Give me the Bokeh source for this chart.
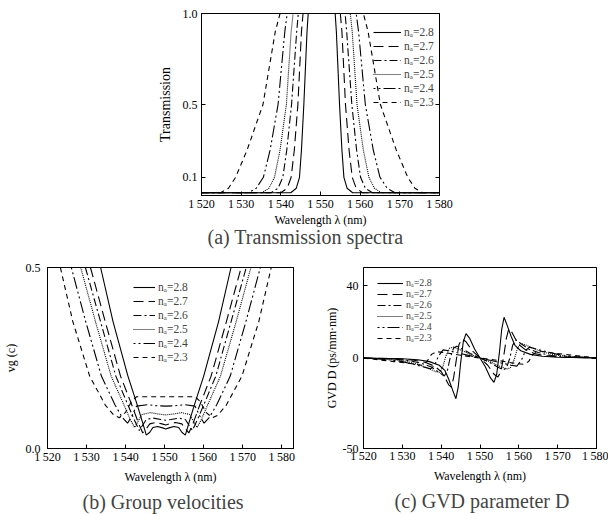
from bokeh.plotting import figure
from bokeh.models import FixedTicker, Legend, LegendItem, LinearAxis, Range1d
from bokeh.layouts import column, row
from bokeh.embed import file_html
from bokeh.resources import INLINE

SERIF = "Liberation Serif, Times New Roman, serif"

# ---------------- data ----------------
na_labels = ["nₐ=2.8", "nₐ=2.7", "nₐ=2.6", "nₐ=2.5", "nₐ=2.4", "nₐ=2.3"]
dashes = ["solid", "10 5", "8 3 2 3", "1 1", "2 3 2 3 12 3", "5 4"]

x_ticks = [1520, 1530, 1540, 1550, 1560, 1570, 1580]
x_tick_labels = ["1\u2009520", "1\u2009530", "1\u2009540", "1\u2009550", "1\u2009560", "1\u2009570", "1\u2009580"]

# (a) transmission spectra
a_ticks = [0.1, 0.5, 1.0]
a_tick_labels = ["0.1", "0.5", "1.0"]
wl_a_28 = [1520, 1542.5, 1543.9, 1544.7, 1545.2, 1545.8, 1546.6, 1546.9, 1553.7, 1554.0, 1554.8, 1555.4, 1555.9, 1556.7, 1558.1, 1580]
T_a_28 = [0.015, 0.015, 0.04, 0.1, 0.25, 0.5, 0.9, 1.0, 1.0, 0.9, 0.5, 0.25, 0.1, 0.04, 0.015, 0.015]
wl_a_27 = [1520, 1540.0, 1541.6, 1542.6, 1543.4, 1544.3, 1545.2, 1545.6, 1555.0, 1555.4, 1556.3, 1557.2, 1558.0, 1559.0, 1560.6, 1580]
T_a_27 = [0.015, 0.015, 0.04, 0.1, 0.25, 0.5, 0.9, 1.0, 1.0, 0.9, 0.5, 0.25, 0.1, 0.04, 0.015, 0.015]
wl_a_26 = [1520, 1537.5, 1539.3, 1540.5, 1541.5, 1542.7, 1544.0, 1544.4, 1556.2, 1556.6, 1557.9, 1559.1, 1560.1, 1561.3, 1563.1, 1580]
T_a_26 = [0.015, 0.015, 0.04, 0.1, 0.25, 0.5, 0.9, 1.0, 1.0, 0.9, 0.5, 0.25, 0.1, 0.04, 0.015, 0.015]
wl_a_25 = [1520, 1535.2, 1537.0, 1538.4, 1539.8, 1541.4, 1542.6, 1543.1, 1557.5, 1558.0, 1559.2, 1560.8, 1562.2, 1563.6, 1565.4, 1580]
T_a_25 = [0.015, 0.015, 0.04, 0.1, 0.25, 0.5, 0.9, 1.0, 1.0, 0.9, 0.5, 0.25, 0.1, 0.04, 0.015, 0.015]
wl_a_24 = [1520, 1531.8, 1533.8, 1535.6, 1537.3, 1539.3, 1541.0, 1541.6, 1559.0, 1559.6, 1561.3, 1563.3, 1565.0, 1566.8, 1568.8, 1580]
T_a_24 = [0.015, 0.015, 0.04, 0.1, 0.25, 0.5, 0.9, 1.0, 1.0, 0.9, 0.5, 0.25, 0.1, 0.04, 0.015, 0.015]
wl_a_23 = [1520, 1524.8, 1526.8, 1528.6, 1531.5, 1535.5, 1538.6, 1539.8, 1560.8, 1562.0, 1565.1, 1569.1, 1572.0, 1573.8, 1575.8, 1580]
T_a_23 = [0.015, 0.015, 0.04, 0.1, 0.25, 0.5, 0.9, 1.0, 1.0, 0.9, 0.5, 0.25, 0.1, 0.04, 0.015, 0.015]

# (b) group velocities
b_ticks = [0.0, 0.5]
b_tick_labels = ["0.0", "0.5"]
wl_b_28 = [1533.6, 1536.8, 1540.6, 1543.0, 1544.4, 1545.3, 1546.2, 1547.0, 1548.2, 1549.5, 1550.3,
           1551.1, 1552.4, 1553.6, 1554.4, 1555.3, 1556.2, 1557.6, 1560.0, 1563.8, 1567.0]
vg_b_28 = [0.5, 0.35, 0.2, 0.12, 0.07, 0.037, 0.045, 0.058, 0.061, 0.057, 0.054,
           0.057, 0.061, 0.058, 0.045, 0.037, 0.07, 0.12, 0.2, 0.35, 0.5]
wl_b_27 = [1531.0, 1534.8, 1538.7, 1541.6, 1543.3, 1544.4, 1545.3, 1546.2, 1547.8, 1549.3, 1550.3,
           1551.3, 1552.8, 1554.4, 1555.3, 1556.2, 1557.3, 1559.0, 1561.9, 1565.8, 1569.6]
vg_b_27 = [0.5, 0.35, 0.2, 0.12, 0.07, 0.043, 0.055, 0.068, 0.072, 0.068, 0.065,
           0.068, 0.072, 0.068, 0.055, 0.043, 0.07, 0.12, 0.2, 0.35, 0.5]
wl_b_26 = [1529.7, 1533.6, 1537.5, 1540.6, 1542.4, 1543.5, 1544.4, 1545.3, 1547.0, 1549.0, 1550.3,
           1551.6, 1553.6, 1555.3, 1556.2, 1557.1, 1558.2, 1560.0, 1563.1, 1567.0, 1570.9]
vg_b_26 = [0.5, 0.35, 0.2, 0.12, 0.075, 0.05, 0.065, 0.08, 0.084, 0.08, 0.078,
           0.08, 0.084, 0.08, 0.065, 0.05, 0.075, 0.12, 0.2, 0.35, 0.5]
wl_b_25 = [1528.5, 1532.3, 1536.3, 1539.6, 1541.2, 1542.3, 1543.2, 1544.2, 1546.3, 1548.5, 1550.3,
           1552.1, 1554.3, 1556.4, 1557.4, 1558.3, 1559.4, 1561.0, 1564.3, 1568.3, 1572.1]
vg_b_25 = [0.5, 0.35, 0.2, 0.12, 0.08, 0.058, 0.075, 0.094, 0.099, 0.095, 0.093,
           0.095, 0.099, 0.094, 0.075, 0.058, 0.08, 0.12, 0.2, 0.35, 0.5]
wl_b_24 = [1526.1, 1529.8, 1533.8, 1537.3, 1539.2, 1540.5, 1541.6, 1542.8, 1545.5, 1548.0, 1550.3,
           1552.6, 1555.1, 1557.8, 1559.0, 1560.1, 1561.4, 1563.3, 1566.8, 1570.8, 1574.5]
vg_b_24 = [0.5, 0.35, 0.2, 0.12, 0.085, 0.07, 0.09, 0.117, 0.121, 0.118, 0.117,
           0.118, 0.121, 0.117, 0.09, 0.07, 0.085, 0.12, 0.2, 0.35, 0.5]
wl_b_23 = [1523.3, 1526.5, 1530.8, 1534.8, 1537.0, 1538.4, 1540.0, 1541.5, 1542.8, 1550.3,
           1557.8, 1559.1, 1560.6, 1562.2, 1563.6, 1565.8, 1569.8, 1574.1, 1577.3]
vg_b_23 = [0.5, 0.35, 0.2, 0.12, 0.092, 0.085, 0.1, 0.13, 0.143, 0.143,
           0.143, 0.13, 0.1, 0.085, 0.092, 0.12, 0.2, 0.35, 0.5]

# (c) GVD parameter D
c_ticks = [-50, 0, 40]
c_tick_labels = ["-50", "0", "40"]
wl_c_28 = [1520, 1530, 1534, 1537, 1539.5, 1541, 1542, 1543, 1543.8, 1544.4, 1545, 1545.7, 1546.4, 1547.3, 1548.6, 1550,
           1551.4, 1552.7, 1553.6, 1554.3, 1555, 1555.6, 1556.2, 1557, 1558, 1559, 1560.5, 1563, 1566, 1570, 1580]
D_c_28 = [0, -0.4, -1, -2, -4, -7, -12, -18, -22.5, -16, -3, 9, 13.5, 11, 5, 0,
          -5, -11, -13.5, -9, 3, 16, 22.5, 18, 12, 7, 4, 2, 1, 0.4, 0]
wl_c_27 = [1520, 1529, 1533, 1536, 1538.3, 1540, 1541, 1542, 1542.6, 1543.2, 1543.9, 1544.6, 1545.4, 1546.4, 1548, 1550,
           1552, 1553.6, 1554.6, 1555.4, 1556.1, 1556.8, 1557.4, 1558, 1559, 1560, 1561.7, 1564, 1567, 1571, 1580]
D_c_27 = [0, -0.5, -1.2, -2.5, -4.5, -7.5, -11, -15, -16, -11, -1, 7.5, 10.5, 9, 4, 0,
          -4, -9, -10.5, -7.5, 1, 11, 16, 15, 11, 7.5, 4.5, 2.5, 1.2, 0.5, 0]
wl_c_26 = [1520, 1528, 1532, 1535, 1537.5, 1539.5, 1540.8, 1541.6, 1542.3, 1543.2, 1544, 1545.5, 1547.5, 1550,
           1552.5, 1554.5, 1556, 1556.8, 1557.7, 1558.4, 1559.2, 1560.5, 1562.5, 1565, 1568, 1572, 1580]
D_c_26 = [0, -0.6, -1.5, -3, -5, -8, -10, -7, 0, 5.5, 6.5, 5, 2.5, 0,
          -2.5, -5, -6.5, -5.5, 0, 7, 10, 8, 5, 3, 1.5, 0.6, 0]
wl_c_25 = [1520, 1527, 1531, 1534, 1536.5, 1538.5, 1539.6, 1540.4, 1541.2, 1542.2, 1543.2, 1545, 1547.5, 1550,
           1552.5, 1555, 1556.8, 1557.8, 1558.8, 1559.6, 1560.4, 1561.5, 1563.5, 1566, 1569, 1573, 1580]
D_c_25 = [0, -0.7, -1.8, -3.5, -5.5, -7.5, -8, -5, 1, 5.5, 6, 4.5, 2, 0,
          -2, -4.5, -6, -5.5, -1, 5, 8, 7.5, 5.5, 3.5, 1.8, 0.7, 0]
wl_c_24 = [1520, 1526, 1530, 1533, 1535.5, 1537.3, 1538.3, 1539.3, 1540.5, 1542, 1545, 1550,
           1555, 1558, 1559.5, 1560.7, 1561.7, 1562.7, 1564.5, 1567, 1570, 1574, 1580]
D_c_24 = [0, -0.8, -2, -3.5, -5, -6, -4, 1, 4.5, 4, 2.5, 0,
          -2.5, -4, -4.5, -1, 4, 6, 5, 3.5, 2, 0.8, 0]
wl_c_23 = [1520, 1524, 1528, 1532, 1535, 1536.3, 1537.5, 1538.8, 1541, 1545, 1550,
           1555, 1559, 1561.2, 1562.5, 1563.7, 1565, 1568, 1572, 1576, 1580]
D_c_23 = [0, -1, -2, -3, -4, -2, 2, 3.5, 3, 1.5, 0,
          -1.5, -3, -3.5, -2, 2, 4, 3, 2, 1, 0]

series_a = [(wl_a_28, T_a_28), (wl_a_27, T_a_27), (wl_a_26, T_a_26), (wl_a_25, T_a_25), (wl_a_24, T_a_24), (wl_a_23, T_a_23)]
series_b = [(wl_b_28, vg_b_28), (wl_b_27, vg_b_27), (wl_b_26, vg_b_26), (wl_b_25, vg_b_25), (wl_b_24, vg_b_24), (wl_b_23, vg_b_23)]
series_c = [(wl_c_28, D_c_28), (wl_c_27, D_c_27), (wl_c_26, D_c_26), (wl_c_25, D_c_25), (wl_c_24, D_c_24), (wl_c_23, D_c_23)]


def make_panel(title, width, height, borders, xr, yr, yticks, ylabels, ylabel, title_offset, title_std,
               x_std, xlab_std, y_std, ylab_std, ylab_size):
    top, right, bottom, left = borders
    p = figure(width=width, height=height, output_backend="svg", toolbar_location=None,
               x_range=Range1d(*xr), y_range=Range1d(*yr),
               min_border_top=top, min_border_right=right, min_border_bottom=bottom, min_border_left=left,
               title=title, title_location="below")
    p.title.text_font = SERIF
    p.title.text_font_size = "20px"
    p.title.text_font_style = "normal"
    p.title.align = "left"
    p.title.offset = title_offset
    p.title.standoff = title_std
    p.grid.visible = False
    p.outline_line_color = "black"
    p.outline_line_width = 1
    p.outline_line_alpha = 1
    p.background_fill_color = "white"
    p.border_fill_color = "white"

    p.xaxis.ticker = FixedTicker(ticks=x_ticks)
    p.xaxis.major_label_overrides = dict(zip(x_ticks, x_tick_labels))
    p.xaxis.axis_label = "Wavelength λ (nm)"
    p.xaxis.major_label_standoff = x_std
    p.xaxis.axis_label_standoff = xlab_std

    p.yaxis.ticker = FixedTicker(ticks=yticks)
    p.yaxis.major_label_overrides = dict(zip(yticks, ylabels))
    p.yaxis.axis_label = ylabel
    p.yaxis.major_label_standoff = y_std
    p.yaxis.axis_label_standoff = ylab_std

    ax_r = LinearAxis(ticker=FixedTicker(ticks=yticks),
                      major_label_overrides={t: "" for t in yticks},
                      major_label_standoff=0)
    p.add_layout(ax_r, "right")

    for ax in p.axis:
        ax.axis_line_color = "black"
        ax.major_tick_line_color = "black"
        ax.major_tick_in = 4
        ax.major_tick_out = 0
        ax.minor_tick_line_color = None
        ax.major_label_text_font = SERIF
        ax.major_label_text_font_size = "12px"
        ax.major_label_text_color = "black"
        ax.axis_label_text_font = SERIF
        ax.axis_label_text_font_style = "normal"
        ax.axis_label_text_color = "black"
        ax.axis_label_text_font_size = "12px"
    p.yaxis.axis_label_text_font_size = ylab_size
    return p


def add_lines(p, series, legend_loc, font_size, glyph_w, row_h, standoff):
    items = []
    for (xs, ys), dash, lab in zip(series, dashes, na_labels):
        r = p.line(xs, ys, line_color="black", line_width=1.1, line_dash=dash)
        items.append(LegendItem(label=lab, renderers=[r]))
    leg = Legend(items=items, location=legend_loc,
                 label_text_font=SERIF, label_text_font_size=font_size,
                 label_text_line_height=1.0,
                 glyph_width=glyph_w, glyph_height=row_h, label_height=row_h,
                 label_standoff=standoff, spacing=0, padding=0, margin=0,
                 border_line_color=None, background_fill_alpha=0)
    p.add_layout(leg)


# (a)  frame 201..439 x 13..195
pa = make_panel("(a) Transmission spectra", 608, 250, (13, 169, 55, 201), (1520, 1580), (0, 1.0),
                a_ticks, a_tick_labels, "Transmission", 6, -12, 1, -1, 4, 7, "14px")
add_lines(pa, series_a, (172, 86), "11.5px", 28, 14, 3)

# (b)  frame 47..293 x 267..448
pb = make_panel("(b) Group velocities", 305, 264, (17, 12, 66, 47), (1520, 1583), (0, 0.5),
                b_ticks, b_tick_labels, "vg (c)", 35, 4, 1, 3, 7, 5, "12px")
add_lines(pb, series_b, (86, 84), "11.5px", 22, 14, 3)

# (c)  frame 363..596 x 267..449
pc = make_panel("(c) GVD parameter D", 303, 264, (17, 12, 65, 58), (1520, 1580), (-50, 50),
                c_ticks, c_tick_labels, "GVD D (ps/mm·nm)", 31, 5, 0, 3, 5, 1, "12px")
add_lines(pc, series_c, (14, 105), "10px", 26, 10, 3)

layout = column(pa, row(pb, pc))
open("out.html", "w").write(file_html(layout, INLINE))
